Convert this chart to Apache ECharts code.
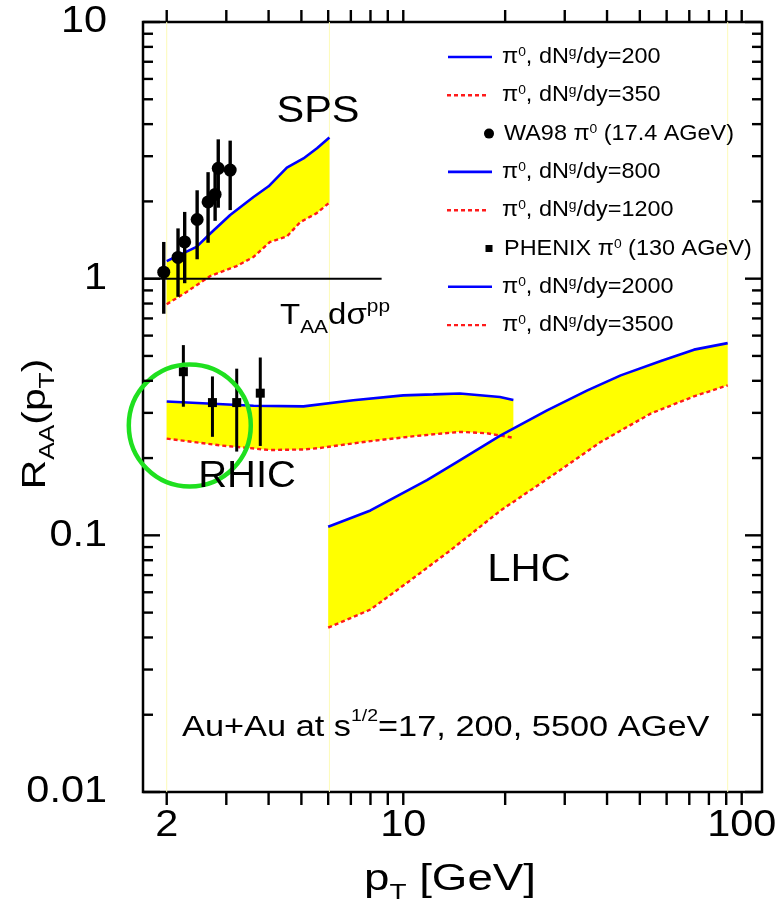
<!DOCTYPE html>
<html>
<head>
<meta charset="utf-8">
<script src="https://cdn.jsdelivr.net/npm/echarts@6/dist/echarts.min.js"></script>
<style>
  html, body { margin: 0; padding: 0; background: #fff; }
  #main { width: 779px; height: 905px; }
</style>
</head>
<body>
<div id="main"></div>
<script>
// Axis ranges: pT [GeV] (log) and R_AA (log)
const X_MIN = 1.702, X_MAX = 114.8;
const Y_MIN = 0.01, Y_MAX = 10;

// SPS band: dNg/dy = 200 (upper) and 350 (lower)
const spsUpper = [[2.0,1.17],[2.45,1.33],[2.69,1.50],[3.08,1.77],[3.61,2.08],[4.0,2.29],[4.53,2.71],[5.07,2.94],[5.56,3.22],[6.05,3.55]];
const spsLower = [[2.0,0.795],[2.29,0.888],[2.69,1.024],[3.22,1.12],[3.61,1.215],[4.04,1.39],[4.53,1.46],[4.96,1.66],[5.55,1.80],[6.05,1.98]];

// RHIC band: dNg/dy = 800 (upper) and 1200 (lower)
const rhicUpper = [[2.0,0.332],[3.61,0.320],[5.07,0.318],[7.12,0.336],[10.0,0.351],[12.27,0.354],[14.7,0.357],[19.3,0.346],[21.15,0.337]];
const rhicLower = [[2.0,0.238],[2.88,0.224],[4.04,0.215],[5.07,0.216],[5.68,0.219],[7.8,0.232],[10.96,0.244],[14.7,0.253],[17.6,0.25],[21.15,0.24]];

// LHC band: dNg/dy = 2000 (upper) and 3500 (lower)
const lhcUpper = [[6.0,0.108],[8.0,0.125],[11.75,0.164],[14.4,0.193],[19.4,0.245],[26.6,0.307],[35.0,0.367],[43.9,0.42],[57.7,0.478],[72.3,0.529],[90.9,0.561]];
const lhcLower = [[6.0,0.0437],[8.0,0.0514],[10.5,0.0668],[13.8,0.0875],[19.4,0.125],[27.2,0.169],[38.3,0.231],[53.8,0.298],[72.3,0.348],[90.9,0.384]];

// WA98 pi0 (17.4 AGeV): pT, R_AA, error
const wa98X   = [1.96, 2.16, 2.26, 2.46, 2.65, 2.78, 2.84, 3.08];
const wa98Y   = [1.06, 1.21, 1.39, 1.70, 1.99, 2.13, 2.69, 2.65];
const wa98Err = [0.33, 0.36, 0.43, 0.51, 0.61, 0.45, 0.80, 0.80];

// PHENIX pi0 (130 AGeV): pT, R_AA, error
const phenixX   = [2.24, 2.73, 3.22, 3.78];
const phenixY   = [0.434, 0.329, 0.329, 0.358];
const phenixErr = [0.117, 0.087, 0.117, 0.135];

// T_AA dsigma^pp reference (R_AA = 1)
const unityLine = [[X_MIN, 1], [8.63, 1]];

// Thin vertical guides at the band edges
const guideX = [2.0, 6.05, 90.9];

// Highlighted RHIC region
const highlight = [[2.34, 0.268]];

// Axis ticks and labels
const xTicks = [2,3,4,5,6,7,8,9,10,20,30,40,50,60,70,80,90,100];
const xTickLabels = [2, 10, 100];
const yTicks = [0.01,0.02,0.03,0.04,0.05,0.06,0.07,0.08,0.09,0.1,0.2,0.3,0.4,0.5,0.6,0.7,0.8,0.9,1,2,3,4,5,6,7,8,9,10];
const yMajor = [0.01, 0.1, 1, 10];
const yTickLabels = ['0.01', '0.1', '1', '10'];

// Legend rows
const legendText = [
  '{m|π}{s|0}{m|, dN}{s|g}{m|/dy=200}',
  '{m|π}{s|0}{m|, dN}{s|g}{m|/dy=350}',
  '{m|WA98 π}{s|0}{m| (17.4 AGeV)}',
  '{m|π}{s|0}{m|, dN}{s|g}{m|/dy=800}',
  '{m|π}{s|0}{m|, dN}{s|g}{m|/dy=1200}',
  '{m|PHENIX π}{s|0}{m| (130 AGeV)}',
  '{m|π}{s|0}{m|, dN}{s|g}{m|/dy=2000}',
  '{m|π}{s|0}{m|, dN}{s|g}{m|/dy=3500}'
];
const legendKind = ['blue', 'red', 'circle', 'blue', 'red', 'square', 'blue', 'red'];

const FONT = "'Liberation Sans', Arial, Helvetica, sans-serif";
const BLUE = '#0000ff', RED = '#ff1a1a', YELLOW = '#ffff00';
const SX = 1.12; // horizontal stretch of the lettering

const chart = echarts.init(document.getElementById('main'), null, { renderer: 'canvas' });

function bandSeries(upper, lower) {
  return {
    type: 'custom',
    coordinateSystem: 'cartesian2d',
    silent: true,
    z: 1,
    data: [upper[0]],
    renderItem: function (params, api) {
      const pts = upper.map(p => api.coord(p)).concat(lower.slice().reverse().map(p => api.coord(p)));
      return { type: 'polygon', shape: { points: pts }, style: { fill: YELLOW, stroke: null } };
    }
  };
}

function curve(data, dashed) {
  return {
    type: 'line',
    data: data,
    symbol: 'none',
    silent: true,
    z: 3,
    lineStyle: dashed ? { color: RED, width: 2.4, type: [4, 3], opacity: 1 } : { color: BLUE, width: 2.6, opacity: 1 }
  };
}

function errorBars(xs, ys, es, width) {
  return {
    type: 'custom',
    coordinateSystem: 'cartesian2d',
    silent: true,
    z: 5,
    data: xs.map((x, i) => [x, ys[i], es[i]]),
    encode: { x: 0, y: 1 },
    renderItem: function (params, api) {
      const x = api.value(0), y = api.value(1), e = api.value(2);
      const lo = api.coord([x, y - e]), hi = api.coord([x, y + e]);
      return { type: 'line', shape: { x1: lo[0], y1: lo[1], x2: hi[0], y2: hi[1] },
               style: { stroke: '#000', lineWidth: width } };
    }
  };
}

const series = [
  // faint edge guides
  {
    type: 'custom', coordinateSystem: 'cartesian2d', silent: true, z: 0,
    data: guideX.map(v => [v, Y_MIN]),
    renderItem: function (params, api) {
      const v = api.value(0);
      const a = api.coord([v, Y_MIN]), b = api.coord([v, Y_MAX]);
      return { type: 'line', shape: { x1: a[0], y1: a[1], x2: b[0], y2: b[1] },
               style: { stroke: '#fdfbb8', lineWidth: 1 } };
    }
  },
  bandSeries(spsUpper, spsLower),
  bandSeries(rhicUpper, rhicLower),
  bandSeries(lhcUpper, lhcLower),
  curve(spsUpper, false), curve(spsLower, true),
  curve(rhicUpper, false), curve(rhicLower, true),
  curve(lhcUpper, false), curve(lhcLower, true),
  {
    type: 'line', data: unityLine, symbol: 'none', silent: true, z: 4,
    lineStyle: { color: '#000', width: 2, opacity: 1 }
  },
  errorBars(wa98X, wa98Y, wa98Err, 3.4),
  errorBars(phenixX, phenixY, phenixErr, 3),
  {
    type: 'scatter', silent: true, z: 6,
    data: wa98X.map((x, i) => [x, wa98Y[i]]),
    symbol: 'circle', symbolSize: 13,
    itemStyle: { color: '#000', opacity: 1 }
  },
  {
    type: 'scatter', silent: true, z: 6,
    data: phenixX.map((x, i) => [x, phenixY[i]]),
    symbol: 'rect', symbolSize: 9,
    itemStyle: { color: '#000', opacity: 1 }
  },
  {
    type: 'scatter', silent: true, z: 7,
    data: highlight,
    symbol: 'circle', symbolSize: 122,
    itemStyle: { color: 'rgba(0,0,0,0)', borderColor: '#1fe01f', borderWidth: 4.5, opacity: 1 }
  },
  // x ticks (outward, top and bottom)
  {
    type: 'custom', coordinateSystem: 'cartesian2d', silent: true, z: 10, clip: false,
    data: xTicks.map(v => [v, Y_MIN]),
    renderItem: function (params, api) {
      const v = api.value(0);
      const b = api.coord([v, Y_MIN]), t = api.coord([v, Y_MAX]);
      const st = { stroke: '#000', lineWidth: 2.4 };
      return { type: 'group', children: [
        { type: 'line', shape: { x1: b[0], y1: b[1], x2: b[0], y2: b[1] + 13 }, style: st },
        { type: 'line', shape: { x1: t[0], y1: t[1], x2: t[0], y2: t[1] - 12 }, style: st }
      ] };
    }
  },
  // y ticks (inward, left and right)
  {
    type: 'custom', coordinateSystem: 'cartesian2d', silent: true, z: 10, clip: false,
    data: yTicks.map(v => [X_MIN, v]),
    renderItem: function (params, api) {
      const v = api.value(1);
      const len = yMajor.indexOf(v) >= 0 ? 17 : 10;
      const l = api.coord([X_MIN, v]), r = api.coord([X_MAX, v]);
      const st = { stroke: '#000', lineWidth: 2.4 };
      return { type: 'group', children: [
        { type: 'line', shape: { x1: l[0], y1: l[1], x2: l[0] + len, y2: l[1] }, style: st },
        { type: 'line', shape: { x1: r[0], y1: r[1], x2: r[0] - len, y2: r[1] }, style: st }
      ] };
    }
  },
  // x tick labels
  {
    type: 'custom', coordinateSystem: 'cartesian2d', silent: true, z: 10, clip: false,
    data: xTickLabels.map(v => [v, Y_MIN]),
    renderItem: function (params, api) {
      const v = api.value(0);
      const p = api.coord([v, Y_MIN]);
      return { type: 'text', x: p[0], y: p[1] + 34, scaleX: SX,
               style: { text: String(v), fill: '#000', fontSize: 37, fontFamily: FONT,
                        align: 'center', verticalAlign: 'middle' } };
    }
  },
  // y tick labels
  {
    type: 'custom', coordinateSystem: 'cartesian2d', silent: true, z: 10, clip: false,
    data: yMajor.map(v => [X_MIN, v]),
    renderItem: function (params, api) {
      const v = api.value(1);
      const p = api.coord([X_MIN, v]);
      return { type: 'text', x: p[0] - 36, y: p[1], scaleX: SX,
               style: { text: yTickLabels[params.dataIndex], fill: '#000', fontSize: 37, fontFamily: FONT,
                        align: 'right', verticalAlign: 'middle' } };
    }
  }
];

// Legend drawn as graphic rows
const legendGraphics = [];
const LEG_X = 448, LEG_Y = 57, LEG_STEP = 38.3;
legendKind.forEach((kind, i) => {
  const y = LEG_Y + i * LEG_STEP;
  if (kind === 'blue') {
    legendGraphics.push({ type: 'line', shape: { x1: LEG_X, y1: y, x2: LEG_X + 44, y2: y },
      style: { stroke: BLUE, lineWidth: 2.6 } });
  } else if (kind === 'red') {
    legendGraphics.push({ type: 'line', shape: { x1: LEG_X - 1, y1: y, x2: LEG_X + 40, y2: y },
      style: { stroke: RED, lineWidth: 2.4, lineDash: [4, 3] } });
  } else if (kind === 'circle') {
    legendGraphics.push({ type: 'circle', shape: { cx: LEG_X + 41, cy: y, r: 5 }, style: { fill: '#000' } });
  } else {
    legendGraphics.push({ type: 'rect', shape: { x: LEG_X + 37.5, y: y - 3.5, width: 7, height: 7 }, style: { fill: '#000' } });
  }
  legendGraphics.push({
    type: 'text', x: kind === 'circle' || kind === 'square' ? LEG_X + 56 : LEG_X + 54, y: y, scaleX: 1.065,
    style: {
      text: legendText[i], fill: '#000', align: 'left', verticalAlign: 'middle',
      rich: {
        m: { fontSize: 22, fontFamily: FONT, lineHeight: 22, fill: '#000' },
        s: { fontSize: 13, fontFamily: FONT, lineHeight: 13, verticalAlign: 'top', fill: '#000' }
      }
    }
  });
});

const textGraphics = [
  { type: 'text', x: 318, y: 112, scaleX: 1.12,
    style: { text: 'SPS', fontSize: 37, fontFamily: FONT, fill: '#000', align: 'center', verticalAlign: 'middle' } },
  { type: 'text', x: 247, y: 477, scaleX: 1.08,
    style: { text: 'RHIC', fontSize: 37, fontFamily: FONT, fill: '#000', align: 'center', verticalAlign: 'middle' } },
  { type: 'text', x: 529, y: 571, scaleX: 1.1,
    style: { text: 'LHC', fontSize: 38, fontFamily: FONT, fill: '#000', align: 'center', verticalAlign: 'middle' } },
  { type: 'text', x: 280, y: 316, scaleX: 1.1,
    style: {
      text: '{m|T}{b|AA}{m|dσ}{t|pp}', align: 'left', verticalAlign: 'middle',
      rich: {
        m: { fontSize: 30, fontFamily: FONT, lineHeight: 30, fill: '#000' },
        b: { fontSize: 19, fontFamily: FONT, lineHeight: 16, verticalAlign: 'bottom', fill: '#000', padding: [0, 0, -6, 0] },
        t: { fontSize: 19, fontFamily: FONT, lineHeight: 16, verticalAlign: 'top', fill: '#000', padding: [-4, 0, 0, 0] }
      }
    } },
  { type: 'text', x: 182, y: 728, scaleX: 1.145,
    style: {
      text: '{m|Au+Au at s}{t|1/2}{m|=17, 200, 5500 AGeV}', align: 'left', verticalAlign: 'middle',
      rich: {
        m: { fontSize: 30, fontFamily: FONT, lineHeight: 30, fill: '#000' },
        t: { fontSize: 17, fontFamily: FONT, lineHeight: 17, verticalAlign: 'top', fill: '#000', padding: [-5, 0, 0, 0] }
      }
    } },
  // axis titles
  { type: 'text', x: 450, y: 880, scaleX: 1.27,
    style: {
      text: '{m|p}{b|T}{m| [GeV]}', align: 'center', verticalAlign: 'middle',
      rich: {
        m: { fontSize: 36, fontFamily: FONT, lineHeight: 36, fill: '#000' },
        b: { fontSize: 22, fontFamily: FONT, lineHeight: 18, verticalAlign: 'bottom', fill: '#000', padding: [0, 0, -6, 0] }
      }
    } },
  { type: 'text', x: 36, y: 424, rotation: Math.PI / 2, scaleX: 1.2,
    style: {
      text: '{m|R}{b|AA}{m|(p}{b|T}{m|)}', align: 'center', verticalAlign: 'middle',
      rich: {
        m: { fontSize: 34, fontFamily: FONT, lineHeight: 34, fill: '#000' },
        b: { fontSize: 22, fontFamily: FONT, lineHeight: 18, verticalAlign: 'bottom', fill: '#000', padding: [0, 0, -6, 0] }
      }
    } }
];

chart.setOption({
  animation: false,
  backgroundColor: '#fff',
  grid: { left: 143, right: 17, top: 22, bottom: 113, show: true, borderColor: '#000', borderWidth: 2.5, backgroundColor: 'transparent' },
  xAxis: {
    type: 'log', logBase: 10, min: X_MIN, max: X_MAX,
    axisLine: { show: false }, axisTick: { show: false }, axisLabel: { show: false }, splitLine: { show: false }
  },
  yAxis: {
    type: 'log', logBase: 10, min: Y_MIN, max: Y_MAX,
    axisLine: { show: false }, axisTick: { show: false }, axisLabel: { show: false }, splitLine: { show: false }
  },
  series: series,
  graphic: legendGraphics.concat(textGraphics).map(g => Object.assign({ silent: true, z: 20 }, g))
});
</script>
</body>
</html>
